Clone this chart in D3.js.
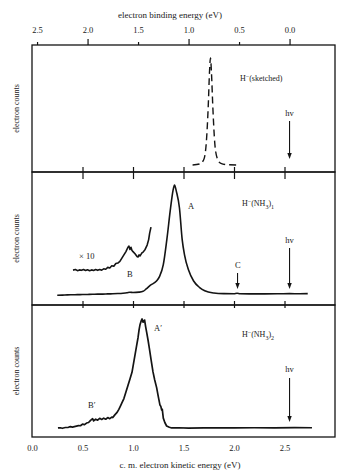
<!DOCTYPE html>
<html>
<head>
<meta charset="utf-8">
<script src="https://cdn.jsdelivr.net/npm/d3@7"></script>
<style>
  html, body { margin: 0; padding: 0; background: #fff; }
  svg { display: block; }
  text { font-family: "Liberation Serif", "DejaVu Serif", serif; fill: #1a1a1a; }
</style>
</head>
<body>
<svg id="chart" width="346" height="476"></svg>
<script>
// Photon energy (eV) that relates kinetic and binding energy: BE = hv - KE
const photonEnergy = 2.55;

// Kinetic-energy tick labels (bottom axis) and binding-energy tick labels (top axis)
const keTicks = [0.0, 0.5, 1.0, 1.5, 2.0, 2.5];
const beTicks = [2.5, 2.0, 1.5, 1.0, 0.5, 0.0];
const beMajor = [2.0, 1.0, 0.0];

// H- (sketched): dashed reference peak
const hKE  = [1.59, 1.66, 1.70, 1.725, 1.745, 1.758, 1.767, 1.776, 1.79, 1.81, 1.835, 1.87, 1.93, 2.04];
const hVal = [0.0, 0.01, 0.05, 0.2, 0.55, 0.88, 1.0, 0.88, 0.55, 0.2, 0.06, 0.015, 0.003, 0.0];

// H-(NH3)1 spectrum
const n1KE  = [0.25, 0.30, 0.35, 0.40, 0.45, 0.50, 0.55, 0.60, 0.65, 0.70, 0.75, 0.80, 0.85, 0.90, 0.94, 0.97, 1.00, 1.06, 1.10, 1.134, 1.17, 1.233, 1.262, 1.30, 1.335, 1.372, 1.396, 1.411, 1.43, 1.46, 1.487, 1.51, 1.55, 1.60, 1.66, 1.71, 1.80, 1.90, 2.00, 2.03, 2.06, 2.15, 2.30, 2.45, 2.55, 2.65, 2.73];
const n1Val = [-0.01, -0.009, -0.007, -0.006, -0.005, -0.004, -0.003, -0.002, 0.0, 0.0, 0.002, 0.003, 0.005, 0.008, 0.012, 0.017, 0.015, 0.018, 0.025, 0.05, 0.08, 0.12, 0.16, 0.27, 0.5, 0.79, 0.95, 1.0, 0.94, 0.79, 0.5, 0.36, 0.22, 0.12, 0.06, 0.03, 0.01, 0.004, 0.003, 0.008, 0.003, 0.002, 0.002, 0.003, 0.004, 0.003, 0.004];

// H-(NH3)1 low-energy region, scaled x10 and offset
const n1x10KE  = [0.406, 0.43, 0.45, 0.47, 0.49, 0.51, 0.53, 0.55, 0.57, 0.59, 0.61, 0.63, 0.65, 0.67, 0.69, 0.71, 0.73, 0.75, 0.77, 0.79, 0.81, 0.83, 0.85, 0.87, 0.89, 0.91, 0.93, 0.95, 0.96, 0.97, 0.98, 0.99, 1.00, 1.02, 1.04, 1.05, 1.06, 1.07, 1.09, 1.10, 1.12, 1.14, 1.155, 1.165, 1.178];
const n1x10Val = [0.22, 0.225, 0.215, 0.222, 0.218, 0.226, 0.216, 0.223, 0.215, 0.222, 0.217, 0.225, 0.218, 0.226, 0.22, 0.232, 0.228, 0.245, 0.24, 0.26, 0.255, 0.28, 0.285, 0.3, 0.33, 0.36, 0.39, 0.43, 0.44, 0.41, 0.43, 0.40, 0.39, 0.37, 0.345, 0.34, 0.36, 0.35, 0.38, 0.385, 0.41, 0.45, 0.5, 0.56, 0.615];

// H-(NH3)2 spectrum
const n2KE  = [0.257, 0.28, 0.30, 0.33, 0.36, 0.38, 0.40, 0.43, 0.46, 0.48, 0.50, 0.52, 0.54, 0.56, 0.58, 0.60, 0.61, 0.63, 0.65, 0.67, 0.69, 0.71, 0.73, 0.75, 0.77, 0.79, 0.80, 0.82, 0.84, 0.86, 0.88, 0.89, 0.91, 0.93, 0.95, 0.97, 0.99, 1.005, 1.02, 1.035, 1.05, 1.06, 1.07, 1.08, 1.09, 1.10, 1.115, 1.125, 1.135, 1.15, 1.162, 1.18, 1.198, 1.215, 1.234, 1.25, 1.267, 1.275, 1.284, 1.29, 1.30, 1.315, 1.333, 1.36, 1.383, 1.45, 1.55, 1.70, 1.85, 2.00, 2.20, 2.40, 2.60, 2.772];
const n2Val = [0.0, 0.002, -0.003, 0.004, 0.006, 0.012, 0.008, 0.015, 0.022, 0.02, 0.035, 0.03, 0.045, 0.05, 0.07, 0.085, 0.065, 0.08, 0.072, 0.088, 0.078, 0.09, 0.08, 0.095, 0.085, 0.1, 0.095, 0.12, 0.14, 0.17, 0.21, 0.23, 0.27, 0.33, 0.39, 0.45, 0.51, 0.59, 0.67, 0.75, 0.83, 0.9, 0.95, 0.98, 1.0, 0.97, 0.99, 0.93, 0.88, 0.8, 0.73, 0.62, 0.514, 0.44, 0.37, 0.29, 0.21, 0.2, 0.165, 0.17, 0.09, 0.05, 0.018, 0.006, 0.0, 0.002, -0.002, 0.0, 0.002, 0.0, 0.002, 0.0, 0.003, 0.002];

// Marker for the weak feature C in the monomer spectrum
const cMarkKE = 2.035;

const svg = d3.select("#chart");
const left = 32, right = 335;

const x = d3.scaleLinear().domain([0, 3]).range([left, right]);
const xBE = d3.scaleLinear().domain([photonEnergy, photonEnergy - 3]).range([left, right]);

// Three stacked panels sharing the kinetic-energy axis
const panels = [
  { top: 45,  bottom: 172, domain: [-0.065, 1.12] },
  { top: 172, bottom: 305, domain: [-0.1, 1.12] },
  { top: 305, bottom: 437, domain: [-0.083, 1.128] }
];
panels.forEach(p => {
  p.y = d3.scaleLinear().domain(p.domain).range([p.bottom, p.top]);
});

const ink = "#141414";

// Inward ticks along internal panel edges
const innerTicks = [0.5, 1.0, 1.5, 2.0, 2.5];
function edgeTicks(yPos, dir, len) {
  const ax = (dir === "down" ? d3.axisTop(x) : d3.axisBottom(x))
    .tickValues(innerTicks).tickSizeInner(-len).tickSizeOuter(0).tickFormat("");
  const g = svg.append("g").attr("transform", `translate(0,${yPos})`).call(ax);
  g.select(".domain").remove();
  g.selectAll(".tick line").attr("stroke", ink).attr("stroke-width", 1.2);
}
edgeTicks(panels[0].bottom, "up", 5);
edgeTicks(panels[1].top, "down", 7);
edgeTicks(panels[1].bottom, "up", 4);
edgeTicks(panels[2].top, "down", 3);

// Panel frames
panels.forEach(p => {
  svg.append("rect")
    .attr("x", left).attr("y", p.top)
    .attr("width", right - left).attr("height", p.bottom - p.top)
    .attr("fill", "none").attr("stroke", ink).attr("stroke-width", 1.3);
});

// Top axis: electron binding energy
const topAxis = d3.axisTop(xBE).tickValues(beTicks).tickSizeInner(6).tickSizeOuter(0)
  .tickPadding(6).tickFormat(d3.format(".1f"));
const gTop = svg.append("g").attr("transform", `translate(0,${panels[0].top})`).call(topAxis);
gTop.select(".domain").remove();
gTop.selectAll(".tick line")
  .attr("stroke", ink).attr("stroke-width", 1.2)
  .attr("y2", d => beMajor.includes(d) ? -6 : -3);
gTop.selectAll(".tick text")
  .style("font-family", "Liberation Serif, serif").style("font-size", "8.5px").attr("fill", ink);

svg.append("text").attr("x", 170).attr("y", 18).attr("text-anchor", "middle")
  .style("font-size", "9px").text("electron binding energy (eV)");

// Bottom axis: kinetic energy
const botAxis = d3.axisBottom(x).tickValues(keTicks).tickSizeInner(0).tickSizeOuter(0)
  .tickPadding(8).tickFormat(d3.format(".1f"));
const gBot = svg.append("g").attr("transform", `translate(0,${panels[2].bottom})`).call(botAxis);
gBot.select(".domain").remove();
gBot.selectAll(".tick text")
  .style("font-family", "Liberation Serif, serif").style("font-size", "8.5px").attr("fill", ink);

svg.append("text").attr("x", 180).attr("y", 468).attr("text-anchor", "middle")
  .style("font-size", "9px").text("c. m. electron kinetic energy (eV)");

// Y-axis titles
panels.forEach(p => {
  const cy = (p.top + p.bottom) / 2;
  svg.append("text")
    .attr("transform", `translate(19,${cy}) rotate(-90)`)
    .attr("text-anchor", "middle")
    .style("font-size", "8px")
    .text("electron counts");
});

// Spectra
function trace(keArr, valArr, panel, opts) {
  const pts = keArr.map((k, i) => [k, valArr[i]]);
  const line = d3.line()
    .x(d => x(d[0])).y(d => panel.y(d[1]))
    .curve(opts.curve || d3.curveMonotoneX);
  svg.append("path").datum(pts)
    .attr("d", line)
    .attr("fill", "none")
    .attr("stroke", ink)
    .attr("stroke-width", opts.width || 1.5)
    .attr("stroke-linejoin", "round")
    .attr("stroke-dasharray", opts.dash || null);
}
trace(hKE, hVal, panels[0], { dash: "7,4", width: 1.4 });
trace(n1KE, n1Val, panels[1], { width: 1.6 });
trace(n1x10KE, n1x10Val, panels[1], { width: 1.6, curve: d3.curveLinear });
trace(n2KE, n2Val, panels[2], { width: 1.7, curve: d3.curveLinear });

// Downward arrows (hv and feature C)
function arrow(ke, y0, y1) {
  const xp = x(ke);
  svg.append("line").attr("x1", xp).attr("x2", xp).attr("y1", y0).attr("y2", y1 - 4)
    .attr("stroke", ink).attr("stroke-width", 1.1);
  svg.append("path")
    .attr("d", `M${xp - 2.2},${y1 - 6} L${xp + 2.2},${y1 - 6} L${xp},${y1} Z`)
    .attr("fill", ink);
}
arrow(photonEnergy, 121, 159);
arrow(photonEnergy, 248, 289);
arrow(photonEnergy, 378, 422);
arrow(cMarkKE, 273, 289);

// hv labels
[[116, 0], [243, 1], [372, 2]].forEach(([yy]) => {
  svg.append("text").attr("x", x(photonEnergy)).attr("y", yy).attr("text-anchor", "middle")
    .style("font-size", "8.5px").text("hv");
});

// Species labels with super/subscripts
function species(xp, yp, parts) {
  const t = svg.append("text").attr("x", xp).attr("y", yp).style("font-size", "8px");
  parts.forEach(([s, shift, size]) => {
    t.append("tspan")
      .attr("baseline-shift", shift || null)
      .style("font-size", size || null)
      .text(s);
  });
}
species(240, 81, [["H"], ["\u2212", "super", "6px"], ["(sketched)"]]);
species(242, 206, [["H"], ["\u2212", "super", "6px"], ["(NH"], ["3", "sub", "6px"], [")"], ["1", "sub", "6px"]]);
species(242, 337, [["H"], ["\u2212", "super", "6px"], ["(NH"], ["3", "sub", "6px"], [")"], ["2", "sub", "6px"]]);

// Feature labels
function label(xp, yp, s, size) {
  svg.append("text").attr("x", xp).attr("y", yp).style("font-size", (size || 8.5) + "px").text(s);
}
label(188, 209, "A");
label(127, 277, "B");
label(235, 268, "C");
label(79, 259, "\u00d7 10");
label(154, 331, "A\u2032");
label(88, 408, "B\u2032");
</script>
</body>
</html>
